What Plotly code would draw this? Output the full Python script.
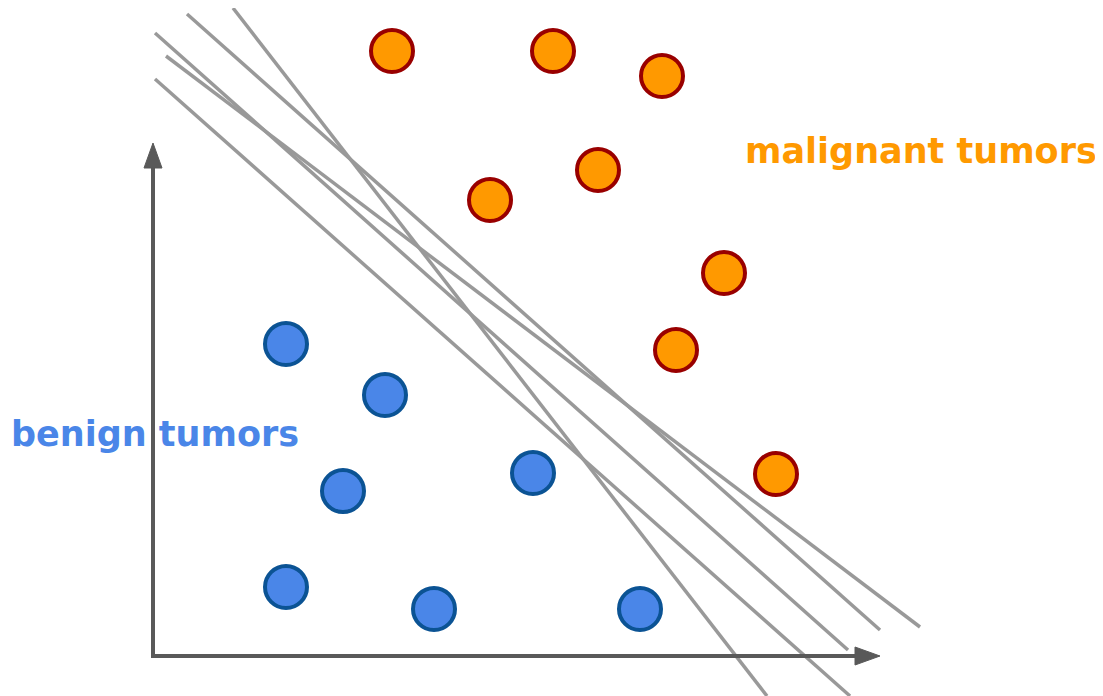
import plotly.graph_objects as go

# Canvas coordinates (pixels, y downward)
W, H = 1103, 696
OFF = 8  # page body margin in the browser

# Malignant tumors (orange points)
malig_x = [392, 553, 662, 598, 490, 724, 676, 776]
malig_y = [51, 51, 76, 170, 200, 273, 350, 474]

# Benign tumors (blue points)
benign_x = [286, 385, 343, 533, 286, 434, 640]
benign_y = [344, 395, 491, 473, 587, 609, 609]

# Candidate separating lines: start and end points
line_x0 = [187, 233, 155, 166, 155]
line_y0 = [14, 8, 33, 56, 79]
line_x1 = [880, 767, 848, 920, 850]
line_y1 = [630, 696, 650, 627, 696]

# Axes (origin and arrow tips)
axis_origin = (153, 656)
axis_y_tip = (153, 143)
axis_x_tip = (880, 656)
HEAD_LEN, HEAD_HALF = 25, 9

fig = go.Figure()

for x0, y0, x1, y1 in zip(line_x0, line_y0, line_x1, line_y1):
    fig.add_trace(go.Scatter(x=[x0, x1], y=[y0, y1], mode="lines",
                             line=dict(color="#999999", width=3.5),
                             hoverinfo="skip", showlegend=False))

# Axis lines
fig.add_trace(go.Scatter(x=[axis_y_tip[0], axis_origin[0], axis_x_tip[0] - HEAD_LEN + 2],
                         y=[axis_y_tip[1] + HEAD_LEN - 2, axis_origin[1], axis_x_tip[1]],
                         mode="lines", line=dict(color="#595959", width=4),
                         hoverinfo="skip", showlegend=False))
# Arrow heads
tx, ty = axis_y_tip
fig.add_trace(go.Scatter(x=[tx, tx - HEAD_HALF, tx + HEAD_HALF, tx],
                         y=[ty, ty + HEAD_LEN, ty + HEAD_LEN, ty],
                         mode="lines", fill="toself", fillcolor="#595959",
                         line=dict(color="#595959", width=1),
                         hoverinfo="skip", showlegend=False))
tx, ty = axis_x_tip
fig.add_trace(go.Scatter(x=[tx, tx - HEAD_LEN, tx - HEAD_LEN, tx],
                         y=[ty, ty - HEAD_HALF, ty + HEAD_HALF, ty],
                         mode="lines", fill="toself", fillcolor="#595959",
                         line=dict(color="#595959", width=1),
                         hoverinfo="skip", showlegend=False))

fig.add_trace(go.Scatter(x=malig_x, y=malig_y, mode="markers",
                         marker=dict(size=42, color="#FF9900",
                                     line=dict(color="#990000", width=4)),
                         showlegend=False))
fig.add_trace(go.Scatter(x=benign_x, y=benign_y, mode="markers",
                         marker=dict(size=42, color="#4A86E8",
                                     line=dict(color="#0B5394", width=4)),
                         showlegend=False))

fig.add_annotation(x=743, y=151, text="<b>malignant tumors</b>", showarrow=False,
                   xanchor="left", yanchor="middle",
                   font=dict(family="DejaVu Sans", size=35, color="#FF9900"))
fig.add_annotation(x=9, y=434, text="<b>benign tumors</b>", showarrow=False,
                   xanchor="left", yanchor="middle",
                   font=dict(family="DejaVu Sans", size=35, color="#4A86E8"))

fig.update_layout(width=W, height=H, margin=dict(l=0, r=0, t=0, b=0),
                  paper_bgcolor="white", plot_bgcolor="white",
                  xaxis=dict(range=[OFF, W + OFF], visible=False, fixedrange=True),
                  yaxis=dict(range=[H + OFF, OFF], visible=False, fixedrange=True))

fig.write_html("out.html")
